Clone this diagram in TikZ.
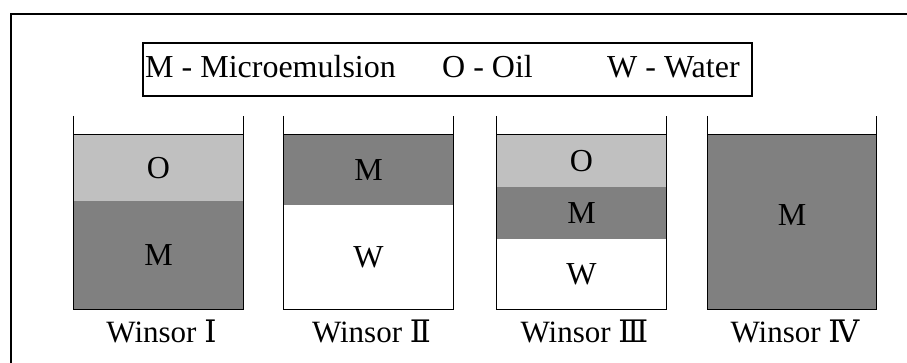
\documentclass[tikz,border=0pt]{standalone}
\usepackage{fontspec}
\setmainfont{Liberation Serif}
\newfontfamily\numfont{DejaVu Serif}
\usetikzlibrary{positioning}
\definecolor{oilgray}{HTML}{C0C0C0}
\definecolor{microgray}{HTML}{808080}

\begin{document}
\begin{tikzpicture}[x=1pt, y=-1pt,
    layer/.style={rectangle, inner sep=0pt, minimum width=169pt,
      font=\fontsize{32}{36}\selectfont},
    oil/.style={layer, fill=oilgray},
    micro/.style={layer, fill=microgray},
    water/.style={layer, fill=white},
    keytext/.style={anchor=base west, inner sep=0pt, font=\fontsize{32}{38}\selectfont},
    caption/.style={inner sep=0pt, font=\fontsize{31}{36}\selectfont},
    wall/.style={line width=1.3pt}]
  \useasboundingbox (0,0) rectangle (907,363);
  \draw[wall] (11,363) -- (11,14) -- (907,14);
  % legend
  \node[draw, line width=1.2pt, inner sep=0pt, minimum width=609pt,
    minimum height=53pt] (key) at (447.5,69.5) {};
  \node[keytext] (keyM) at (145,78) {M - Microemulsion};
  \node[keytext] (keyO) at (442,78) {O - Oil};
  \node[keytext] (keyW) at (607,78) {W - Water};
  % layers
  \node[oil, minimum height=66pt] (o1) at (158.5,168) {O};
  \node[micro, minimum height=108pt] (m1) at (158.5,255) {M};
  \node[micro, minimum height=70pt] (m2) at (368.5,170) {M};
  \node[water, minimum height=104pt] (w2) at (368.5,257) {W};
  \node[oil, minimum height=52pt] (o3) at (581.5,161) {O};
  \node[micro, minimum height=52pt] (m3) at (581.5,213) {M};
  \node[water, minimum height=70pt] (w3) at (581.5,274) {W};
  \node[micro, minimum height=174pt] (m4) at (792,222) {};
  \node[layer] (m4t) at (792,215) {M};
  % beakers
  \foreach \top/\bot/\nr in {o1/m1/Ⅰ, m2/w2/Ⅱ, o3/w3/Ⅲ, m4/m4/Ⅳ} {
    \draw[wall] (\top.north west) ++(0,-19) -- (\bot.south west)
      -- (\bot.south east) -- (\top.north east) -- ++(0,-19);
    \draw[wall] (\top.north west) -- (\top.north east);
    \node[caption, below=11pt of \bot, xshift=3pt] {Winsor {\numfont\nr}};
  }
\end{tikzpicture}
\end{document}
